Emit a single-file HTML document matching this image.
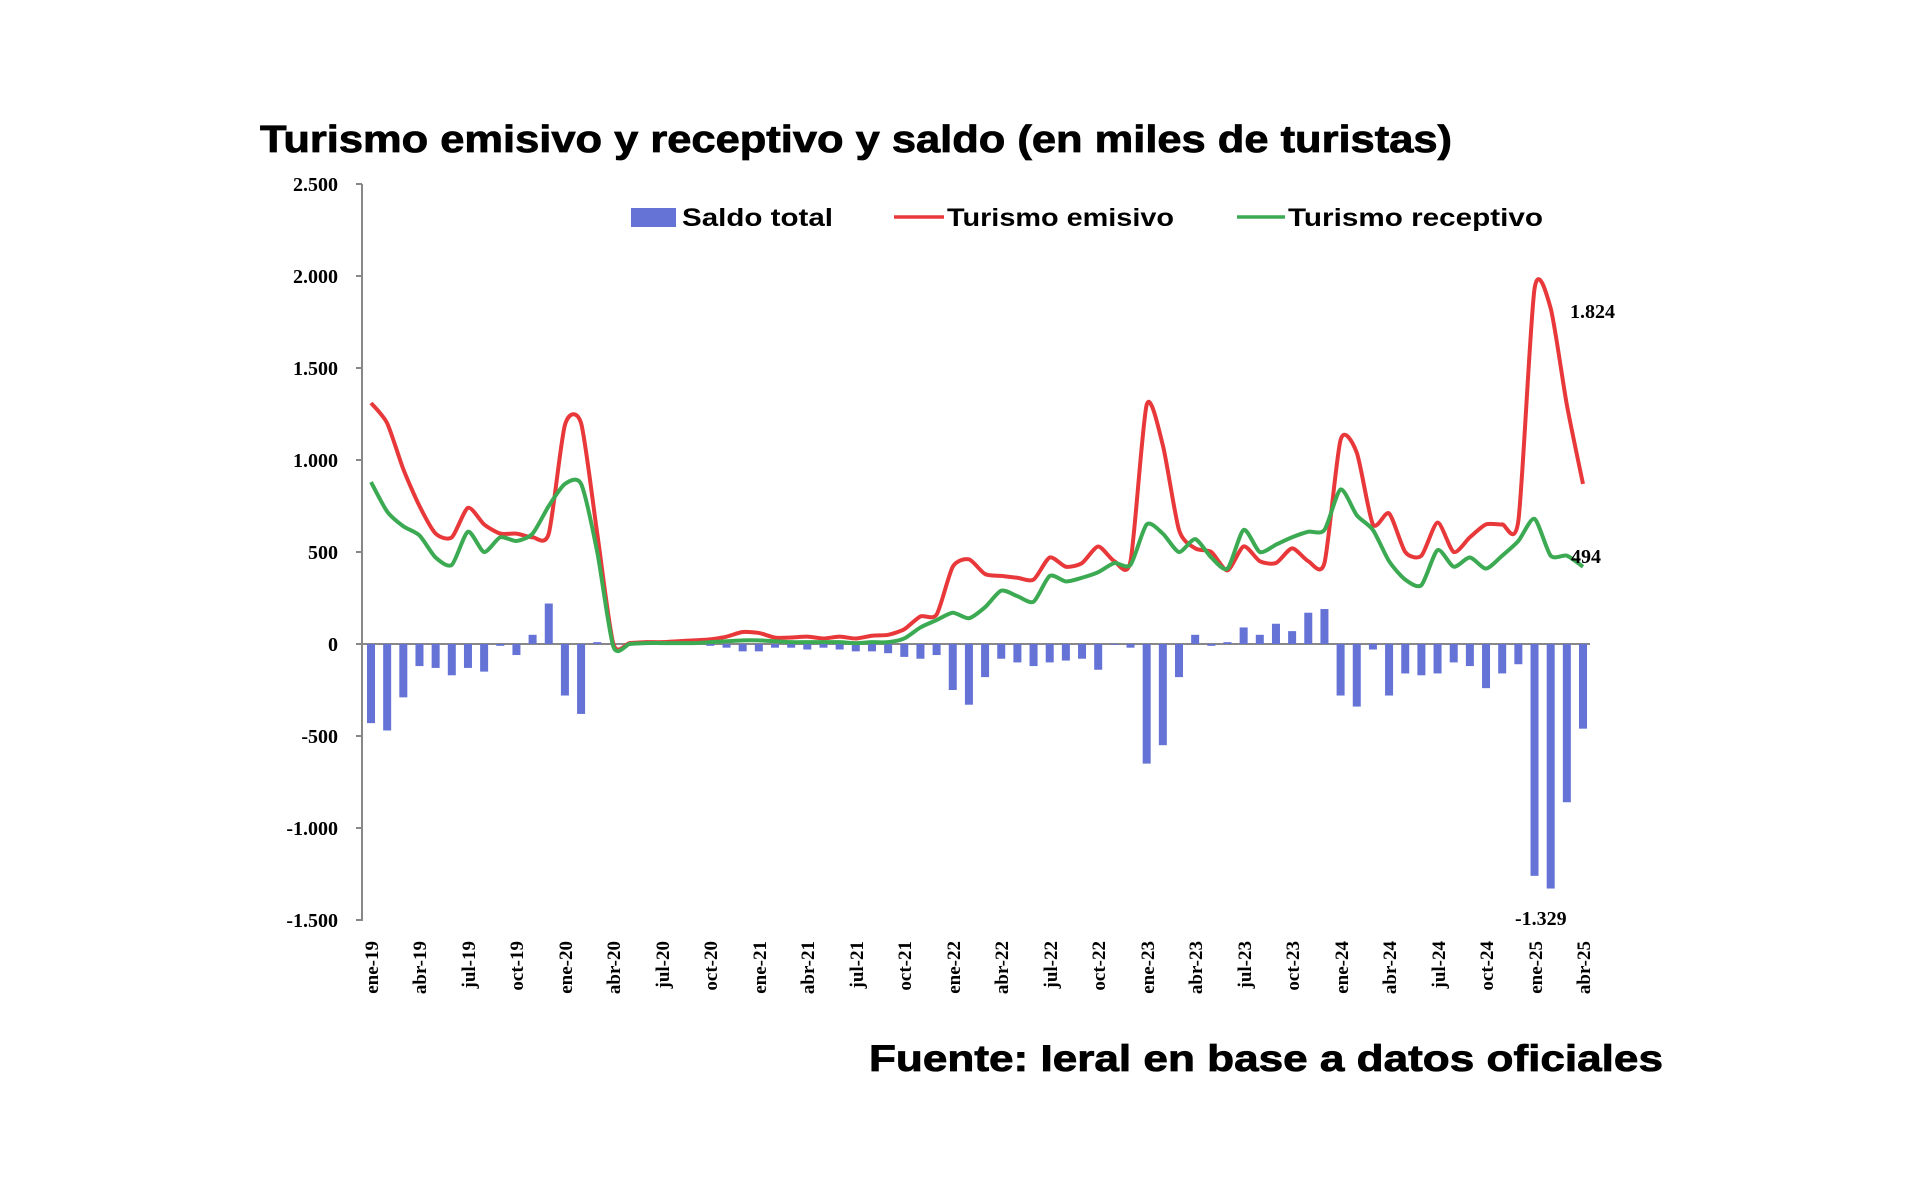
<!DOCTYPE html>
<html><head><meta charset="utf-8"><style>
html,body{margin:0;padding:0;background:#fff;}
svg{display:block;}
.t{font-family:"Liberation Sans",sans-serif;font-weight:bold;fill:#000;}
.s{font-family:"Liberation Serif",serif;font-weight:bold;fill:#000;}
</style></head><body>
<svg id="c" width="1920" height="1202" xmlns="http://www.w3.org/2000/svg">
<rect width="1920" height="1202" fill="#fff"/>
<text class="t" x="260" y="152" font-size="38" textLength="1192" lengthAdjust="spacingAndGlyphs" stroke="#000" stroke-width="0.8">Turismo emisivo y receptivo y saldo (en miles de turistas)</text>
<g class="s" font-size="20" text-anchor="end">
<text x="338" y="191">2.500</text>
<text x="338" y="283">2.000</text>
<text x="338" y="375">1.500</text>
<text x="338" y="467">1.000</text>
<text x="338" y="559">500</text>
<text x="338" y="651">0</text>
<text x="338" y="743">-500</text>
<text x="338" y="835">-1.000</text>
<text x="338" y="927">-1.500</text>
</g>
<g stroke="#888" stroke-width="2">
<line x1="362" y1="184" x2="362" y2="921"/>
<line x1="356" y1="184" x2="362" y2="184"/><line x1="356" y1="276" x2="362" y2="276"/>
<line x1="356" y1="368" x2="362" y2="368"/><line x1="356" y1="460" x2="362" y2="460"/>
<line x1="356" y1="552" x2="362" y2="552"/><line x1="356" y1="644" x2="362" y2="644"/>
<line x1="356" y1="736" x2="362" y2="736"/><line x1="356" y1="828" x2="362" y2="828"/>
<line x1="356" y1="920" x2="362" y2="920"/>
<line x1="362" y1="644" x2="1590" y2="644"/>
</g>
<g id="bars" fill="#6572d6"></g>
<path id="red" fill="none" stroke="#e8383a" stroke-width="4"/>
<path id="green" fill="none" stroke="#3caa52" stroke-width="4"/>
<rect x="631" y="208" width="45" height="19" fill="#6572d6"/>
<text class="t" x="682" y="226" font-size="25" textLength="151" lengthAdjust="spacingAndGlyphs">Saldo total</text>
<line x1="894" y1="217" x2="944" y2="217" stroke="#e8383a" stroke-width="3.5"/>
<text class="t" x="947" y="226" font-size="25" textLength="227" lengthAdjust="spacingAndGlyphs">Turismo emisivo</text>
<line x1="1237" y1="217" x2="1285" y2="217" stroke="#3caa52" stroke-width="3.5"/>
<text class="t" x="1288" y="226" font-size="25" textLength="255" lengthAdjust="spacingAndGlyphs">Turismo receptivo</text>
<text class="s" x="1570" y="318" font-size="20">1.824</text>
<text class="s" x="1571" y="563" font-size="20">494</text>
<text class="s" x="1515" y="925" font-size="20">-1.329</text>
<g id="xl" class="s" font-size="19" text-anchor="end">
<text transform="translate(378,941) rotate(-90)">ene-19</text>
<text transform="translate(426,941) rotate(-90)">abr-19</text>
<text transform="translate(475,941) rotate(-90)">jul-19</text>
<text transform="translate(523,941) rotate(-90)">oct-19</text>
<text transform="translate(572,941) rotate(-90)">ene-20</text>
<text transform="translate(620,941) rotate(-90)">abr-20</text>
<text transform="translate(669,941) rotate(-90)">jul-20</text>
<text transform="translate(717,941) rotate(-90)">oct-20</text>
<text transform="translate(766,941) rotate(-90)">ene-21</text>
<text transform="translate(814,941) rotate(-90)">abr-21</text>
<text transform="translate(863,941) rotate(-90)">jul-21</text>
<text transform="translate(911,941) rotate(-90)">oct-21</text>
<text transform="translate(960,941) rotate(-90)">ene-22</text>
<text transform="translate(1008,941) rotate(-90)">abr-22</text>
<text transform="translate(1057,941) rotate(-90)">jul-22</text>
<text transform="translate(1105,941) rotate(-90)">oct-22</text>
<text transform="translate(1154,941) rotate(-90)">ene-23</text>
<text transform="translate(1202,941) rotate(-90)">abr-23</text>
<text transform="translate(1251,941) rotate(-90)">jul-23</text>
<text transform="translate(1299,941) rotate(-90)">oct-23</text>
<text transform="translate(1348,941) rotate(-90)">ene-24</text>
<text transform="translate(1396,941) rotate(-90)">abr-24</text>
<text transform="translate(1445,941) rotate(-90)">jul-24</text>
<text transform="translate(1493,941) rotate(-90)">oct-24</text>
<text transform="translate(1542,941) rotate(-90)">ene-25</text>
<text transform="translate(1590,941) rotate(-90)">abr-25</text>
</g>
<text class="t" x="869" y="1071" font-size="37" textLength="794" lengthAdjust="spacingAndGlyphs" stroke="#000" stroke-width="0.8">Fuente: Ieral en base a datos oficiales</text>
</svg>
<script>
var red=[1310,1200,950,750,600,580,740,650,600,600,580,600,
1190,1200,600,0,5,10,10,15,20,25,40,65,
60,35,35,40,30,40,30,45,50,80,150,160,
420,460,380,370,360,350,470,420,440,530,450,450,
1300,1080,620,520,500,400,530,450,440,520,450,440,
1110,1040,650,710,500,480,660,500,580,650,650,670,
1930,1824,1300,870];
var grn=[880,720,640,590,470,430,610,500,580,560,600,750,
870,870,500,-15,0,5,5,5,5,10,15,20,
20,15,10,10,10,10,5,10,10,30,90,130,
170,140,200,290,260,230,370,340,360,390,440,430,
650,600,500,570,470,410,620,500,540,580,610,620,
840,700,620,450,350,320,510,420,470,410,480,560,
680,480,480,420];
var sal=[-430,-470,-290,-120,-130,-170,-130,-150,-10,-60,50,220,
-280,-380,10,0,0,0,0,0,0,-10,-20,-40,
-40,-20,-20,-30,-20,-30,-40,-40,-50,-70,-80,-60,
-250,-330,-180,-80,-100,-120,-100,-90,-80,-140,-5,-20,
-650,-550,-180,50,-10,10,90,50,110,70,170,190,
-280,-340,-30,-280,-160,-170,-160,-100,-120,-240,-160,-110,
-1260,-1329,-860,-460];
function X(i){return 371+i*16.16;}
function Y(v){return 644-v*0.184;}
var ns="http://www.w3.org/2000/svg",g=document.getElementById("bars");
sal.forEach(function(v,i){var r=document.createElementNS(ns,"rect");
var y=Y(v);r.setAttribute("x",X(i)-4);r.setAttribute("width",8);
r.setAttribute("y",Math.min(y,644));r.setAttribute("height",Math.abs(y-644));g.appendChild(r);});
function path(a){var p=a.map(function(v,i){return [X(i),Y(v)];});
var d="M"+p[0][0]+","+p[0][1];
for(var i=0;i<p.length-1;i++){var p0=p[Math.max(0,i-1)],p1=p[i],p2=p[i+1],p3=p[Math.min(p.length-1,i+2)];
var t=0.12;
d+=" C"+(p1[0]+(p2[0]-p0[0])*t)+","+(p1[1]+(p2[1]-p0[1])*t)+" "+(p2[0]-(p3[0]-p1[0])*t)+","+(p2[1]-(p3[1]-p1[1])*t)+" "+p2[0]+","+p2[1];}
return d;}
document.getElementById("red").setAttribute("d",path(red));
document.getElementById("green").setAttribute("d",path(grn));
</script>
</body></html>
